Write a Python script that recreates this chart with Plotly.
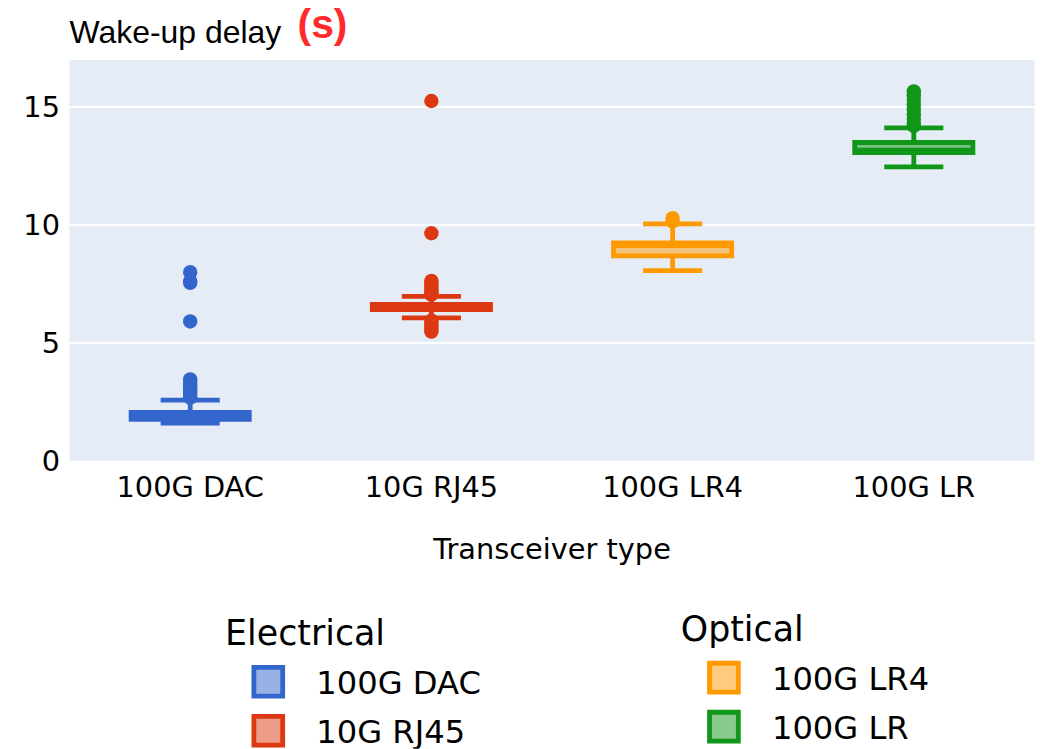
import plotly.graph_objects as go

# Box statistics per transceiver type (seconds)
categories = ["100G DAC", "10G RJ45", "100G LR4", "100G LR"]
families = ["Electrical", "Electrical", "Optical", "Optical"]
colors = ["#3366CC", "#DC3912", "#FF9900", "#109618"]

lower_fence = [1.60, 6.06, 8.07, 12.47]
q1 = [1.76, 6.41, 8.69, 13.07]
median = [1.87, 6.52, 9.13, 13.17]
q3 = [2.05, 6.63, 9.24, 13.50]
upper_fence = [2.57, 6.97, 10.05, 14.12]

# Outlying measurements per transceiver type
outliers_dac = [8.00, 7.62, 7.55, 5.91, 3.45, 3.35, 3.25, 3.15, 3.05, 2.95, 2.85, 2.75, 2.68]
outliers_rj45 = [15.26, 9.65, 7.63, 7.55, 7.45, 7.35, 7.25, 7.15, 7.05,
                 5.95, 5.85, 5.75, 5.65, 5.55, 5.48]
outliers_lr4 = [10.29, 10.15]
outliers_lr = [15.67, 15.50, 15.30, 15.10, 14.90, 14.70, 14.50, 14.30, 14.20]
outliers = [outliers_dac, outliers_rj45, outliers_lr4, outliers_lr]

y_range = [0, 17]
y_ticks = [0, 5, 10, 15]

# The figure is laid out in base units and scaled up in the page
SCALE = 2.4
W = 1043 / SCALE
H = 749 / SCALE
M_L = 70 / SCALE
M_R = (1043 - 1034) / SCALE
M_T = 61 / SCALE
M_B = (749 - 462) / SCALE
PLOT_W = W - M_L - M_R


def paper_x(px):
    """Horizontal position in base pixels -> plot-area fraction."""
    return (px - M_L) / PLOT_W


fig = go.Figure()
legend_of = {"Electrical": "legend", "Optical": "legend2"}

for i, cat in enumerate(categories):
    fig.add_trace(go.Box(
        x=[cat], q1=[q1[i]], median=[median[i]], q3=[q3[i]],
        lowerfence=[lower_fence[i]], upperfence=[upper_fence[i]],
        name=cat, marker_color=colors[i], line=dict(color=colors[i], width=2),
        legend=legend_of[families[i]], boxpoints=False,
    ))
    fig.add_trace(go.Scatter(
        x=[cat] * len(outliers[i]), y=outliers[i], mode="markers",
        marker=dict(color=colors[i], size=6), showlegend=False,
        hoverinfo="y",
    ))

fig.update_layout(
    width=W, height=H,
    template="plotly",
    font=dict(family="DejaVu Sans", size=12, color="black"),
    margin=dict(l=M_L, r=M_R, t=M_T, b=M_B),
    plot_bgcolor="#E5ECF6", paper_bgcolor="white",
    boxmode="overlay",
    xaxis=dict(
        title=dict(text="Transceiver type", font=dict(size=12)),
        categoryorder="array", categoryarray=categories,
        showgrid=False, tickfont=dict(size=12), tickangle=0,
        ticklabelstandoff=2,
    ),
    yaxis=dict(
        range=y_range, tickvals=y_ticks, showgrid=True, gridcolor="white",
        zeroline=False, tickfont=dict(size=12), ticklabelstandoff=3,
    ),
    legend=dict(
        xref="paper", yref="container", x=paper_x(91.9), y=1 - 250 / H,
        xanchor="left", yanchor="top", orientation="v",
        title=dict(text="Electrical", font=dict(size=14.5)),
        font=dict(size=13.4), bgcolor="rgba(0,0,0,0)",
    ),
    legend2=dict(
        xref="paper", yref="container", x=paper_x(281.6), y=1 - 248.3 / H,
        xanchor="left", yanchor="top", orientation="v",
        title=dict(text="Optical", font=dict(size=14.5)),
        font=dict(size=13.4), bgcolor="rgba(0,0,0,0)",
    ),
    annotations=[
        dict(text="Wake-up delay", xref="paper", yref="paper", x=0, y=1,
             xanchor="left", yanchor="bottom", xshift=-2.4, yshift=1.8, showarrow=False,
             font=dict(family="Liberation Sans, Arial", size=13.3, color="black")),
        dict(text="<b>(s)</b>", xref="paper", yref="paper", x=0, y=1,
             xanchor="left", yanchor="bottom", xshift=(293 - 70) / SCALE, yshift=3.3,
             showarrow=False,
             font=dict(family="Liberation Sans, Arial", size=17, color="#ff2a2a")),
    ],
)

page_script = """
var gd = document.getElementById('{plot_id}');
document.documentElement.style.margin = '0';
document.body.style.margin = '0';
document.documentElement.style.overflow = 'hidden';
document.body.style.overflow = 'hidden';
gd.style.transformOrigin = '0 0';
gd.style.transform = 'scale(%s)';
""" % SCALE

fig.write_html("out.html", post_script=page_script)
